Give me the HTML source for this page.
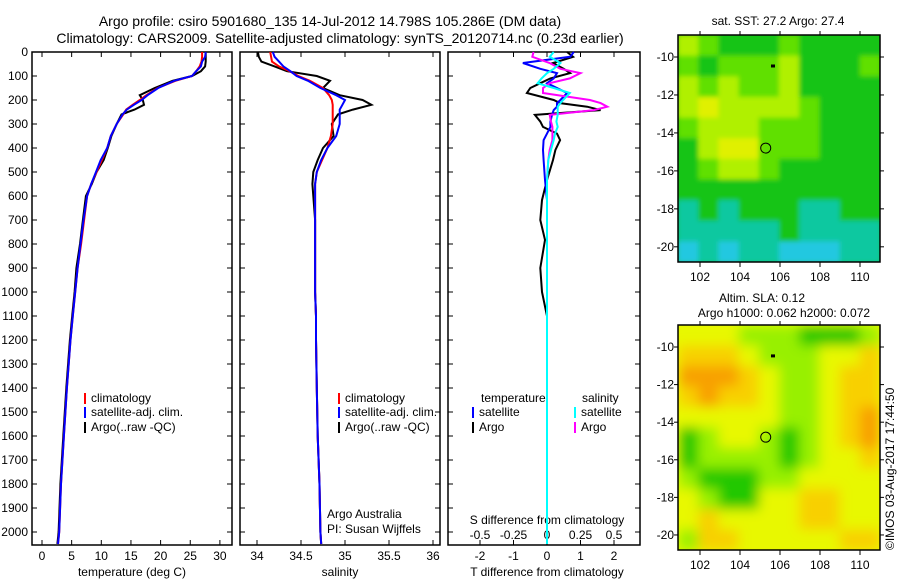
<!DOCTYPE html>
<html><head><meta charset="utf-8">
<style>
body{margin:0;background:#fff;}
svg{display:block;font-family:"Liberation Sans",sans-serif;}
text{fill:#000;}
</style></head>
<body>
<svg id="c" width="900" height="580" viewBox="0 0 900 580">
<text x="330" y="26" font-size="14" text-anchor="middle">Argo profile: csiro 5901680_135 14-Jul-2012 14.798S 105.286E (DM data)</text>
<text x="340" y="43" font-size="14" text-anchor="middle">Climatology: CARS2009. Satellite-adjusted climatology: synTS_20120714.nc (0.23d earlier)</text>
<text x="778" y="25" font-size="12" text-anchor="middle">sat. SST: 27.2 Argo: 27.4</text>
<text x="762" y="302" font-size="12" text-anchor="middle">Altim. SLA: 0.12</text>
<text x="784" y="317" font-size="12" text-anchor="middle">Argo h1000: 0.062 h2000: 0.072</text>
<text transform="translate(894,550) rotate(-90)" font-size="12">©IMOS 03-Aug-2017 17:44:50</text>
<text x="132" y="576" font-size="12" text-anchor="middle">temperature (deg C)</text>
<text x="340" y="576" font-size="12" text-anchor="middle">salinity</text>
<text x="547" y="576" font-size="12" text-anchor="middle">T difference from climatology</text>
<text x="547" y="524" font-size="12" text-anchor="middle">S difference from climatology</text>
<text x="327" y="518" font-size="12">Argo Australia</text>
<text x="327" y="533" font-size="12">PI: Susan Wijffels</text>
</svg>
<script>
// ---- data ----
const depths=[0,20,40,60,80,100,120,150,180,200,220,240,260,300,350,400,450,500,550,600,700,800,900,1000,1100,1200,1400,1600,1800,2000,2050];
const tempClim=[27.0,27.0,26.9,26.6,26.0,25.3,22.5,19.5,17.6,16.5,15.3,14.2,13.7,12.6,11.6,11.0,10.1,9.2,8.3,7.6,7.1,6.6,6.0,5.6,5.2,4.8,4.2,3.7,3.2,2.9,2.7];
const tempArgo=[27.6,27.6,27.6,27.5,26.8,25.3,22.0,19.0,16.5,17.0,17.2,15.6,13.4,12.6,11.7,11.1,10.4,9.2,8.4,7.4,6.9,6.4,5.8,5.5,5.1,4.7,4.1,3.6,3.1,2.8,2.6];
const tempSat=[27.6,27.5,27.0,26.8,26.0,25.3,22.3,19.6,17.8,16.8,15.5,14.3,13.6,12.6,11.6,11.0,9.9,9.1,8.3,7.6,7.0,6.5,6.0,5.6,5.2,4.8,4.2,3.7,3.2,2.9,2.7];
const salClim=[34.15,34.16,34.17,34.25,34.37,34.47,34.6,34.75,34.82,34.85,34.86,34.86,34.86,34.86,34.84,34.8,34.74,34.68,34.66,34.66,34.66,34.66,34.66,34.66,34.67,34.67,34.68,34.69,34.71,34.72,34.73];
const salArgo=[34.01,34.02,34.05,34.2,34.34,34.68,34.83,34.75,34.94,35.2,35.3,35.09,34.92,34.85,34.87,34.75,34.69,34.64,34.63,34.64,34.66,34.66,34.66,34.66,34.67,34.67,34.68,34.69,34.71,34.72,34.73];
const salSat=[34.18,34.2,34.25,34.3,34.38,34.45,34.58,34.72,34.9,35.0,34.97,34.94,34.94,34.94,34.9,34.8,34.73,34.68,34.66,34.66,34.66,34.66,34.66,34.66,34.67,34.67,34.68,34.69,34.71,34.72,34.73];
const diffDepths=[0,20,46,70,88,110,130,150,171,200,213,228,242,262,290,312,340,367,408,450,533,617,700,783,900,1000,1100,1200,1400,1600,1800,2000,2050];
const dTArgo=[0.6,0.78,0.18,0.5,0.69,0.1,-0.2,-0.5,-0.6,0.2,0.39,1.2,1.6,-0.36,-0.2,-0.12,0.3,0.39,0.25,0.18,0,-0.15,-0.2,-0.06,-0.2,-0.15,0,0,0,0,0,0,0];
const dTSat=[0.8,0.69,-0.72,-0.2,0.3,0.2,0,0.3,0.6,0.4,0.3,0.3,0.2,0.15,0.1,0.1,0,-0.1,-0.12,-0.1,-0.06,0,0,0,0,0,0,0,0,0,0,0,0];
const dSArgo=[-0.1,-0.11,0.02,0.1,0.25,0.17,0.02,-0.03,-0.03,0.32,0.4,0.45,0.35,0.02,0.03,0.04,0.04,0.04,0.02,0.01,0,0,0,0,0,0,0,0,0,0,0,0,0];
const dSSat=[0.05,0.02,0.1,0.05,0,-0.04,-0.07,0.05,0.17,0.12,0.1,0.08,0.08,0.08,0.07,0.08,0.06,0.05,0.03,0.01,0,0,0,0,0,0,0,0,0,0,0,0,0];
const depthTicks=[0,100,200,300,400,500,600,700,800,900,1000,1100,1200,1300,1400,1500,1600,1700,1800,1900,2000];
const tempTicks=[0,5,10,15,20,25,30];
const salTicks=[34,34.5,35,35.5,36];
const tdTicks=[-2,-1,0,1,2];
const sdTicks=[-0.5,-0.25,0,0.25,0.5];
const sdTickLabels=["-0.5","-0.25","0","0.25","0.5"];
const lonTicks=[102,104,106,108,110];
const latTicks=[-10,-12,-14,-16,-18,-20];
const sstGrid=[
[4,3,2,2,2,3,2,2,2,2],[3,2,3,3,3,4,2,2,2,3],[4,3,4,3,3,4,2,2,2,2],[4,5,4,4,4,4,3,2,2,2],
[3,4,4,4,3,3,3,2,2,2],[2,4,5,5,3,3,3,2,2,2],[2,3,4,4,3,2,2,2,2,2],[2,2,2,2,2,2,2,2,2,2],
[1,2,1,2,2,2,1,1,2,2],[1,1,1,1,1,2,1,1,1,1],[0,1,0,1,1,0,0,0,1,1]];
const slaGrid=[
[2,2,2,1,1,1,0,0,0,1],[3,3,3,2,1,1,1,2,2,3],[4,4,4,3,2,1,1,2,3,3],[3,4,3,3,2,1,1,2,3,3],
[2,2,2,2,2,1,1,2,3,4],[0,1,2,2,1,0,1,2,3,4],[0,1,1,1,1,0,1,2,2,3],[1,0,0,0,1,1,2,2,2,2],
[2,1,0,0,2,2,3,3,2,2],[2,3,2,2,2,2,3,3,2,2],[1,3,3,2,2,2,2,2,3,3]];
const sstColors=["#20c8e0","#10c8a0","#18c418","#60e000","#b0f000","#e0f000"];
const slaColors=["#20c800","#98f000","#e8f800","#f8d000","#f8a000"];
const argoLon=105.286, argoLat=-14.798, otherLon=105.65, otherLat=-10.5;

// ---- helpers ----
const NS="http://www.w3.org/2000/svg";
const svg=document.getElementById('c');
function el(tag,attrs,parent){const e=document.createElementNS(NS,tag);for(const k in attrs)e.setAttribute(k,attrs[k]);(parent||svg).appendChild(e);return e;}
const Y0=52, YB=545;
const yD=d=>Y0+d*0.24;
const xT=t=>42+t*5.93;
const xS=s=>257+(s-34)*88;
const xTD=t=>547+t*33.5;
const xSD=s=>547+s*134;

function panel(x0,x1,name){
  const r=el('rect',{x:x0,y:Y0,width:x1-x0,height:YB-Y0,fill:'none',stroke:'#000','stroke-width':1.5});
  
  
  depthTicks.forEach(d=>{
    const y=yD(d);
    const t1=el('line',{x1:x0,x2:x0+5,y1:y,y2:y,stroke:'#000'});
    
    
    const t2=el('line',{x1:x1-5,x2:x1,y1:y,y2:y,stroke:'#000'});
    
    
  });
}
function xticks(vals,fx,labels,ly,name){
  vals.forEach((v,i)=>{
    const x=fx(v);
    const a=el('line',{x1:x,x2:x,y1:YB,y2:YB-5,stroke:'#000'});
    
    
    const b=el('line',{x1:x,x2:x,y1:Y0,y2:Y0+5,stroke:'#000'});
    
    
    const t=el('text',{x:x,y:ly,'font-size':12,'text-anchor':'middle'});
    t.textContent=labels[i];
    
    
  });
}
function line(xs,ds,fx,color,name){
  const pts=xs.map((v,i)=>fx(v).toFixed(1)+','+yD(ds[i]).toFixed(1)).join(' ');
  const p=el('polyline',{points:pts,fill:'none',stroke:color,'stroke-width':2,'stroke-linejoin':'miter'});
  
  
}
function legend(x,y,color,label){
  const b=el('line',{x1:x,x2:x,y1:y-9,y2:y+2,stroke:color,'stroke-width':2});
  
  
  const t=el('text',{x:x+6,y:y,'font-size':12});
  t.textContent=label;
  
  
}

// depth labels
depthTicks.forEach(d=>{
  const t=el('text',{x:28,y:yD(d)+4,'font-size':12,'text-anchor':'end'});
  t.textContent=d;
  
  
});

// panel 1 temperature
panel(32,232,'temperature-panel');
xticks(tempTicks,xT,tempTicks.map(String),560,'temperature');
line(tempArgo,depths,xT,'#000','temp-argo-line');
line(tempClim,depths,xT,'#f00','temp-clim-line');
line(tempSat,depths,xT,'#00f','temp-sat-line');
legend(85,402,'#f00','climatology');
legend(85,416,'#00f','satellite-adj. clim.');
legend(85,431,'#000','Argo(..raw -QC)');

// panel 2 salinity
panel(240,440,'salinity-panel');
xticks(salTicks,xS,salTicks.map(String),560,'salinity');
line(salArgo,depths,xS,'#000','sal-argo-line');
line(salClim,depths,xS,'#f00','sal-clim-line');
line(salSat,depths,xS,'#00f','sal-sat-line');
legend(339,402,'#f00','climatology');
legend(339,416,'#00f','satellite-adj. clim.');
legend(339,431,'#000','Argo(..raw -QC)');

// panel 3 differences
panel(448,640,'difference-panel');
xticks(tdTicks,xTD,tdTicks.map(String),560,'t-diff');
sdTicks.forEach((v,i)=>{
  const t=el('text',{x:xSD(v),y:539,'font-size':12,'text-anchor':'middle'});
  t.textContent=sdTickLabels[i];
  
  
});
line(dTArgo,diffDepths,xTD,'#000','t-diff-argo-line');
line(dTSat,diffDepths,xTD,'#00f','t-diff-sat-line');
line(dSArgo,diffDepths,xSD,'#f0f','s-diff-argo-line');
line(dSSat,diffDepths,xSD,'#0ff','s-diff-sat-line');
(function(){
  const a=el('text',{x:481,y:402,'font-size':12});a.textContent='temperature';
  
  
  const b=el('text',{x:582,y:402,'font-size':12});b.textContent='salinity';
  
  
})();
legend(473,416,'#00f','satellite');
legend(473,431,'#000','Argo');
legend(575,416,'#0ff','satellite');
legend(575,431,'#f0f','Argo');

// maps
function map(x0,y0,x1,y1,grid,colors,name,blur){
  const g=el('g',{});
  
  
  const rows=grid.length, cols=grid[0].length;
  const cw=(x1-x0)/cols, ch=(y1-y0)/rows;
  const clipId=name+'-clip';
  const cp=el('clipPath',{id:clipId},g);
  el('rect',{x:x0,y:y0,width:x1-x0,height:y1-y0},cp);
  const inner=el('g',{'clip-path':'url(#'+clipId+')'},g);
  const cg=el('g',blur?{filter:'url(#'+name+'-blur)'}:{},inner);
  if(blur){const f=el('filter',{id:name+'-blur',x:'-10%',y:'-10%',width:'120%',height:'120%'},g);el('feGaussianBlur',{stdDeviation:blur,'edgeMode':'duplicate'},f);}
  el('rect',{x:x0-20,y:y0-20,width:x1-x0+40,height:y1-y0+40,fill:colors[2]},cg);
  grid.forEach((row,r)=>row.forEach((v,c)=>{
    const cell=el('rect',{x:x0+c*cw,y:y0+r*ch,width:cw+0.6,height:ch+0.6,fill:colors[v]},cg);
    
    
  }));
  el('rect',{x:x0,y:y0,width:x1-x0,height:y1-y0,fill:'none',stroke:'#000','stroke-width':1.5},g);
  const lonX=l=>700+(l-102)*20, latY=la=>y0+22+(-10-la)*(y1-y0-22)/10.8;
  lonTicks.forEach(l=>{
    const x=lonX(l);
    el('line',{x1:x,x2:x,y1:y1,y2:y1+5,stroke:'#000'},g);
    el('line',{x1:x,x2:x,y1:y0,y2:y0-4,stroke:'#000'},g);
    const t=el('text',{x:x,y:y1+19,'font-size':12,'text-anchor':'middle'},g);
    t.textContent=l;
    
    
  });
  latTicks.forEach(la=>{
    const y=latY(la);
    el('line',{x1:x0-4,x2:x0,y1:y,y2:y,stroke:'#000'},g);
    el('line',{x1:x1,x2:x1+4,y1:y,y2:y,stroke:'#000'},g);
    const t=el('text',{x:x0-4,y:y+4,'font-size':12,'text-anchor':'end'},g);
    t.textContent=la;
    
    
  });
  const c=el('circle',{cx:lonX(argoLon),cy:latY(argoLat),r:5,fill:'none',stroke:'#000'},g);
  
  
  const s=el('rect',{x:lonX(otherLon)-2,y:latY(otherLat)-2,width:4,height:3,fill:'#000'},g);
  
  
}
map(678,35,880,262,sstGrid,sstColors,'sst-map',2.5);
map(678,325,880,550,slaGrid,slaColors,'sla-map',6);
</script>
</body></html>
